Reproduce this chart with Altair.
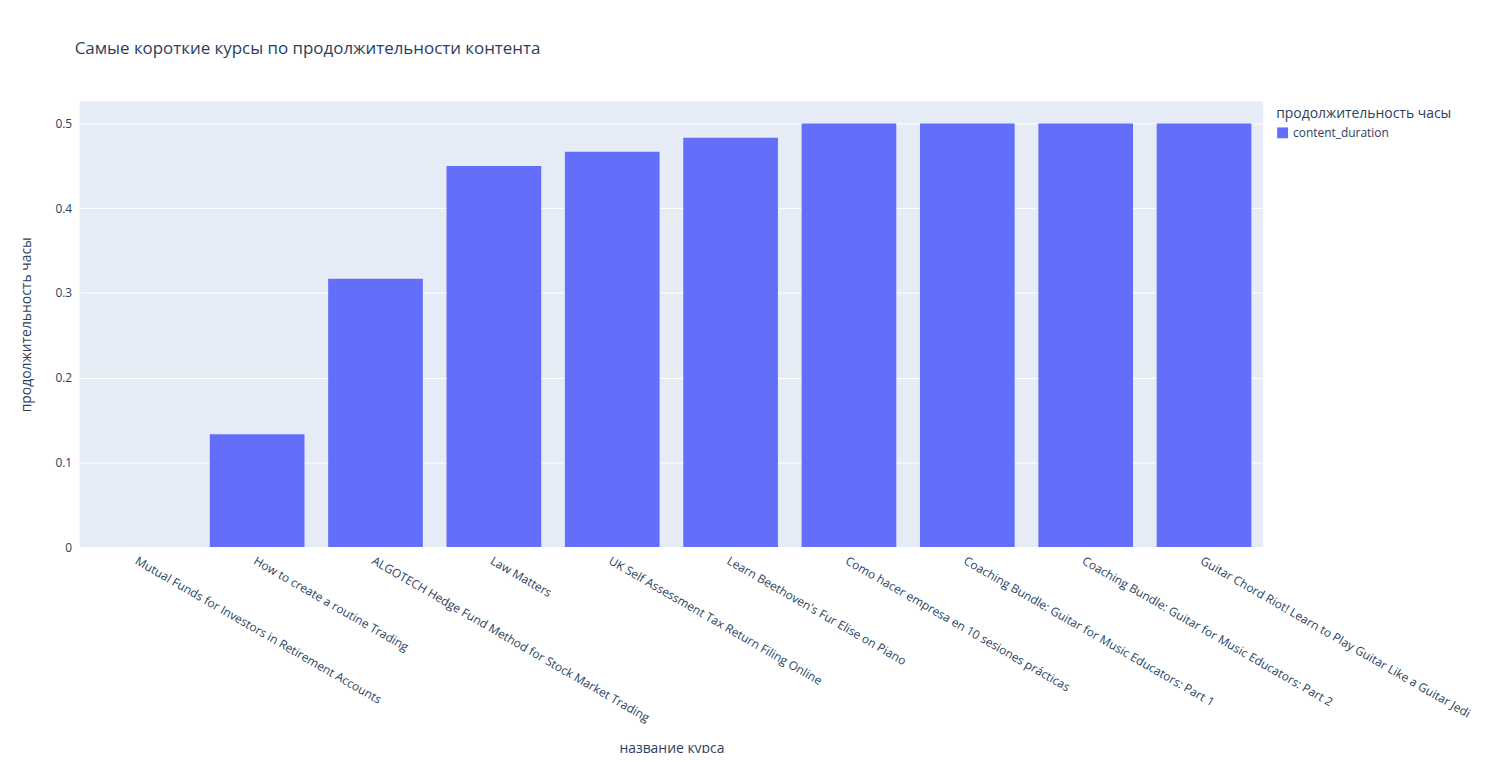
import altair as alt
import pandas as pd

courses = [
    "Mutual Funds for Investors in Retirement Accounts",
    "How to create a routine Trading",
    "ALGOTECH Hedge Fund Method for Stock Market Trading",
    "Law Matters",
    "UK Self Assessment Tax Return Filing Online",
    "Learn Beethoven's Fur Elise on Piano",
    "Como hacer empresa en 10 sesiones prácticas",
    "Coaching Bundle: Guitar for Music Educators: Part 1",
    "Coaching Bundle: Guitar for Music Educators: Part 2",
    "Guitar Chord Riot! Learn to Play Guitar Like a Guitar Jedi",
]
hours = [0, 0.1333, 0.3167, 0.45, 0.4667, 0.4833, 0.5, 0.5, 0.5, 0.5]

df = pd.DataFrame({"course": courses, "hours": hours, "series": "content_duration"})

font = "Open Sans"
txt = "#2a3f5f"

chart = alt.Chart(df).mark_bar().encode(
    x=alt.X("course:N", sort=courses, title="название курса",
            scale=alt.Scale(paddingInner=0.2, paddingOuter=0.1),
            axis=alt.Axis(labelAngle=30, labelAlign="left", labelBaseline="top",
                          labelPadding=8, labelLimit=0, ticks=False, domain=False,
                          titlePadding=10, titleY=196)),
    y=alt.Y("hours:Q", title="продолжительность часы",
            scale=alt.Scale(domain=[0, 0.526], nice=False),
            axis=alt.Axis(values=[0, 0.1, 0.2, 0.3, 0.4, 0.5], format=".1~f",
                          ticks=False, domain=False, labelPadding=8, titlePadding=22)),
    color=alt.Color("series:N", scale=alt.Scale(range=["#636EFA"]),
                    legend=alt.Legend(title="продолжительность часы", orient="none",
                                      legendX=1203, legendY=6, symbolType="square",
                                      symbolSize=120, titleFontSize=14,
                                      titleFontWeight="normal", labelFontSize=12)),
).properties(
    width=1190, height=448,
    autosize=alt.AutoSizeParams(type="none"),
    padding={"left": 72, "top": 92, "right": 226, "bottom": 205},
    title=alt.TitleParams("Самые короткие курсы по продолжительности контента",
                          anchor="start", frame="group", dx=-5, offset=44, fontSize=17,
                          fontWeight="normal", color=txt, font=font),
).configure_view(fill="#E5ECF6", stroke=None).configure_axis(
    gridColor="white", gridWidth=1, labelFont=font, titleFont=font,
    labelColor=txt, titleColor=txt, labelFontSize=12, titleFontSize=14,
    titleFontWeight="normal",
).configure_legend(labelFont=font, titleFont=font, labelColor=txt, titleColor=txt)

chart.save("out.html", embed_options={"renderer": "svg", "actions": False})
